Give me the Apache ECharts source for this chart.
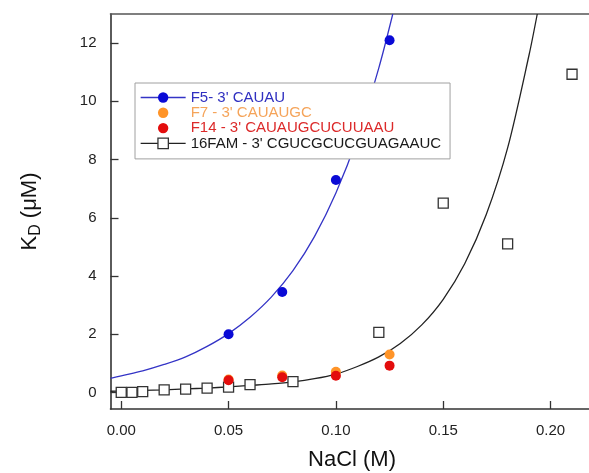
<!DOCTYPE html>
<html>
<head>
<meta charset="utf-8">
<script src="https://cdn.jsdelivr.net/npm/echarts@6/dist/echarts.min.js"></script>
<style>
  html, body { margin: 0; padding: 0; background: #fff; }
  #chart { width: 589px; height: 473px; }
</style>
</head>
<body>
<div id="chart"></div>
<script>
// Measured dissociation constants vs. salt concentration
const naclF5 = [0.05, 0.075, 0.1, 0.125];
const kdF5 = [2.0, 3.45, 7.3, 12.1];

const naclF7 = [0.05, 0.075, 0.1, 0.125];
const kdF7 = [0.44, 0.58, 0.71, 1.3];

const naclF14 = [0.05, 0.075, 0.1, 0.125];
const kdF14 = [0.42, 0.52, 0.57, 0.92];

const nacl16 = [0, 0.005, 0.01, 0.02, 0.03, 0.04, 0.05, 0.06, 0.08, 0.12, 0.15, 0.18, 0.21];
const kd16 = [0.0, 0.0, 0.03, 0.09, 0.11, 0.15, 0.18, 0.27, 0.37, 2.06, 6.5, 5.1, 10.93];

// Fitted curves (sampled)
const fitF5X = [-0.005, 0, 0.01, 0.02, 0.03, 0.04, 0.05, 0.06, 0.07, 0.08, 0.09, 0.1, 0.11, 0.12, 0.1265];
const fitF5Y = [0.48, 0.57, 0.74, 0.96, 1.22, 1.58, 2.02, 2.58, 3.28, 4.18, 5.35, 6.85, 8.75, 11.15, 13.0];

const fit16X = [-0.005, 0, 0.01, 0.02, 0.03, 0.04, 0.05, 0.06, 0.07, 0.08, 0.09, 0.1, 0.11, 0.12, 0.13, 0.14, 0.15, 0.16, 0.17, 0.18, 0.19, 0.1938];
const fit16Y = [0.04, 0.05, 0.07, 0.09, 0.12, 0.15, 0.19, 0.24, 0.29, 0.36, 0.47, 0.63, 0.89, 1.22, 1.68, 2.32, 3.2, 4.42, 6.1, 8.4, 11.6, 13.0];

// Axis ticks
const xTicks = [0, 0.05, 0.1, 0.15, 0.2];
const yTicks = [0, 2, 4, 6, 8, 10, 12];

// Series names
const nameF5 = "F5- 3' CAUAU";
const nameF7 = "F7 - 3' CAUAUGC";
const nameF14 = "F14 - 3' CAUAUGCUCUUAAU";
const name16 = "16FAM - 3' CGUCGCUCGUAGAAUC";

const FONT = "'Liberation Sans', Arial, Helvetica, sans-serif";
const zip = (xs, ys) => xs.map((x, i) => [x, ys[i]]);

const blueLine = '#3434c6';
const blueDot = '#0a0ad6';
const orange = '#ff9428';
const orangeText = '#f5a45a';
const red = '#e30d0d';
const redText = '#dc2a2a';

const chart = echarts.init(document.getElementById('chart'), null, { renderer: 'canvas' });

const pointSeries = (name, xs, ys, color, z) => ({
  name: name,
  type: 'line',
  data: zip(xs, ys),
  symbol: 'circle',
  symbolSize: 10,
  itemStyle: { color: color },
  lineStyle: { width: 0, opacity: 0 },
  z: z
});

const fitSeries = (name, xs, ys, color) => ({
  name: name,
  type: 'line',
  data: zip(xs, ys),
  showSymbol: false,
  symbol: 'none',
  smooth: 0.3,
  clip: true,
  lineStyle: { color: color, width: 1.3 },
  silent: true,
  z: 1
});

const option = {
  animation: false,
  backgroundColor: '#fff',
  textStyle: { fontFamily: FONT },
  grid: { left: 110.5, right: -4.5, top: 14, bottom: 64, containLabel: false, outerBoundsMode: 'none' },
  legend: {
    orient: 'vertical',
    left: 135,
    top: 83,
    padding: [7, 9, 8, 5],
    itemWidth: 45,
    itemHeight: 13,
    itemGap: 0.3,
    borderColor: '#a0a0a0',
    borderWidth: 1,
    backgroundColor: '#fff',
    selectedMode: false,
    textStyle: { fontSize: 15, lineHeight: 15, fontFamily: FONT },
    data: [
      { name: nameF5, textStyle: { color: '#3030c0' },
        lineStyle: { color: blueLine, width: 1.3, opacity: 1 },
        itemStyle: { color: blueDot } },
      { name: nameF7, textStyle: { color: orangeText },
        lineStyle: { width: 0, opacity: 0 },
        itemStyle: { color: orange } },
      { name: nameF14, textStyle: { color: redText },
        lineStyle: { width: 0, opacity: 0 },
        itemStyle: { color: red } },
      { name: name16, textStyle: { color: '#1a1a1a' },
        lineStyle: { color: '#222', width: 1.3, opacity: 1 },
        itemStyle: { color: '#fff', borderColor: '#333', borderWidth: 1.3 } }
    ]
  },
  xAxis: [
    {
      type: 'value',
      min: -0.005,
      max: 0.22,
      position: 'bottom',
      name: 'NaCl (M)',
      nameLocation: 'middle',
      nameGap: 40,
      nameTextStyle: { fontSize: 22, color: '#111', fontFamily: FONT },
      axisLine: { show: true, onZero: false, lineStyle: { color: '#333', width: 1.6 } },
      axisTick: { show: true, inside: true, length: 8, customValues: xTicks, lineStyle: { color: '#333', width: 1.3 } },
      axisLabel: { show: true, margin: 14, fontSize: 15, color: '#222', fontFamily: FONT,
                   customValues: xTicks, formatter: v => v.toFixed(2) },
      splitLine: { show: false }
    },
    {
      type: 'value',
      min: -0.005,
      max: 0.22,
      position: 'top',
      axisLine: { show: true, onZero: false, lineStyle: { color: '#555', width: 1.6 } },
      axisTick: { show: false },
      axisLabel: { show: false },
      splitLine: { show: false }
    }
  ],
  yAxis: {
    type: 'value',
    min: -0.57,
    max: 13,
    name: '{a|K}{b|D}{a| (μM)}',
    nameLocation: 'middle',
    nameRotate: 90,
    nameGap: 67,
    nameTextStyle: {
      color: '#111',
      rich: {
        a: { fontSize: 22, fontFamily: FONT, color: '#111', lineHeight: 28, verticalAlign: 'middle' },
        b: { fontSize: 16, fontFamily: FONT, color: '#111', lineHeight: 14, verticalAlign: 'bottom', padding: [12, 0, 0, 0] }
      }
    },
    axisLine: { show: true, onZero: false, lineStyle: { color: '#333', width: 1.6 } },
    axisTick: { show: true, inside: true, length: 8, customValues: yTicks, lineStyle: { color: '#333', width: 1.3 } },
    axisLabel: { show: true, margin: 14, fontSize: 15, color: '#222', fontFamily: FONT, customValues: yTicks },
    splitLine: { show: false }
  },
  series: [
    fitSeries('F5 fit', fitF5X, fitF5Y, blueLine),
    fitSeries('16FAM fit', fit16X, fit16Y, '#222'),
    {
      name: name16,
      type: 'line',
      data: zip(nacl16, kd16),
      symbol: 'rect',
      symbolSize: 10,
      itemStyle: { color: '#fff', borderColor: '#333', borderWidth: 1.3 },
      lineStyle: { width: 0, opacity: 0 },
      z: 3
    },
    pointSeries(nameF7, naclF7, kdF7, orange, 4),
    pointSeries(nameF14, naclF14, kdF14, red, 5),
    pointSeries(nameF5, naclF5, kdF5, blueDot, 6)
  ]
};

chart.setOption(option);
</script>
</body>
</html>
